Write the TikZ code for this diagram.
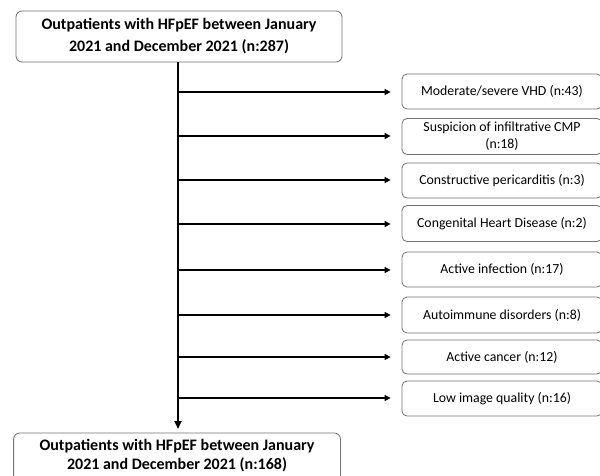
\documentclass[tikz,border=0pt]{standalone}
\usepackage{fontspec}
\setmainfont{Carlito}
\usetikzlibrary{arrows.meta}
\begin{document}
\begin{tikzpicture}[x=1pt,y=-1pt,
  boxline/.style={draw=black!55, rounded corners=6pt, line width=0.8pt},
  mainbox/.style={boxline, align=center,
    font=\bfseries\fontsize{16}{22}\selectfont, inner sep=0pt, minimum width=326pt, minimum height=51pt},
  sidebox/.style={draw=black!55, rounded corners=5pt, line width=0.8pt, align=center,
    font=\fontsize{13.8}{17}\selectfont, inner sep=0pt, minimum width=200pt},
  arr/.style={-{Triangle[length=6pt,width=6pt]}, line width=1.3pt}]
\useasboundingbox (0,0) rectangle (600,475);
\fill[white] (0,0) rectangle (600,475);
\begin{scope}
\clip (0,0) rectangle (600,475);
\node[mainbox] (top) at (179,36.5) {Outpatients with HFpEF between January\\2021 and December 2021 (n:287)};
\node[mainbox, draw=none, anchor=north, minimum height=44pt, font=\bfseries\fontsize{16}{18.5}\selectfont] (bot) at (177,433) {Outpatients with HFpEF between January\\2021 and December 2021 (n:168)};
\draw[boxline] (bot.north west) rectangle ([yshift=-12pt]bot.south east);

\node[sidebox, minimum height=35pt] (s1) at (502,91.5) {Moderate/severe VHD (n:43)};
\node[sidebox, minimum height=36pt] (s2) at (502,136.5) {Suspicion of infiltrative CMP\\(n:18)};
\node[sidebox, minimum height=35pt] (s3) at (502,180.5) {Constructive pericarditis (n:3)};
\node[sidebox, minimum height=36pt] (s4) at (502,223.5) {Congenital Heart Disease (n:2)};
\node[sidebox, minimum height=35pt] (s5) at (502,269.5) {Active infection (n:17)};
\node[sidebox, minimum height=36pt] (s6) at (502,315) {Autoimmune disorders (n:8)};
\node[sidebox, minimum height=34pt] (s7) at (502,357) {Active cancer (n:12)};
\node[sidebox, minimum height=35pt] (s8) at (502,398.5) {Low image quality (n:16)};

\coordinate (spine) at (178,0);
\draw[-{Triangle[length=8pt,width=7pt]}, line width=2pt] (top.south -| spine) -- ([yshift=4pt]bot.north -| spine);
\foreach \i/\y in {1/92,2/136,3/180,4/224,5/270,6/315,7/357,8/398}{
  \coordinate (b\i) at (178,\y);
  \draw[arr] (b\i) -- ([xshift=-11pt]s\i.west |- b\i);
}
\end{scope}
\end{tikzpicture}
\end{document}
